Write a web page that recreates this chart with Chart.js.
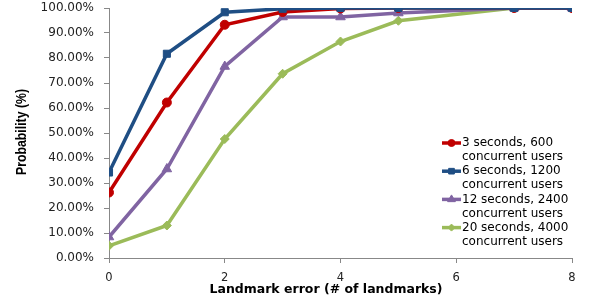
<!DOCTYPE html>
<html><head><meta charset="utf-8">
<script src="https://cdn.jsdelivr.net/npm/chart.js@4/dist/chart.umd.min.js"></script>
<style>html,body{margin:0;padding:0;background:#fff}#wrap{position:relative;width:591px;height:302px}</style>
</head><body><div id="wrap"><canvas id="c" width="591" height="302"></canvas></div>
<script>
const xValues = [0, 1, 2, 3, 4, 5, 7, 8];
const red3s   = [26.2, 62.2, 93.3, 98.4, 99.8, 100, 100, 100];
const blue6s  = [34.2, 81.7, 98.3, 99.7, 100, 100, 100, 100];
const purple12s = [8.4, 35.6, 76.6, 96.4, 96.4, 98.0, 100, 100];
const green20s  = [4.9, 13.0, 47.6, 73.7, 86.6, 94.9, 100, 100];
const seriesLabels = [["3 seconds, 600","concurrent users"],["6 seconds, 1200","concurrent users"],["12 seconds, 2400","concurrent users"],["20 seconds, 4000","concurrent users"]];
const xTitle = "Landmark error (# of landmarks)";
const yTitle = "Probability (%)";

const pts = arr => arr.map((v,i)=>({x:xValues[i], y:v}));
const styles = [
  {c:'#C00000', s:'circle', r:4.5},
  {c:'#1F4E84', s:'rect', r:5},
  {c:'#8064A2', s:'triangle', r:5.5},
  {c:'#9BBB59', s:'rectRot', r:4.5}
];
const data = [red3s, blue6s, purple12s, green20s];
const datasets = data.map((d,i)=>({
  label: seriesLabels[i].join(' '),
  data: pts(d),
  borderColor: styles[i].c,
  backgroundColor: styles[i].c,
  borderWidth: 3.5,
  pointStyle: styles[i].s,
  pointRadius: styles[i].r,
  pointBorderWidth: 1,
  tension: 0,
  order: i===1 ? 0 : 1
}));

const overlay = {
  id:'overlay',
  afterDraw(chart){
    const ctx = chart.ctx;
    ctx.save();
    ctx.fillStyle = '#000';
    ctx.font = 'bold 12.5px "DejaVu Sans"';
    ctx.textAlign = 'center'; ctx.textBaseline = 'middle';
    ctx.fillText(xTitle, 326, 290);
    ctx.translate(22, 132);
    ctx.rotate(-Math.PI/2);
    ctx.scale(0.82, 1);
    ctx.font = 'bold 15px "Liberation Sans"';
    ctx.fillText(yTitle, 0, 0);
    ctx.restore();
    ctx.save();
    ctx.font = '12px "DejaVu Sans"';
    ctx.textAlign = 'left'; ctx.textBaseline = 'middle';
    seriesLabels.forEach((lab,i)=>{
      const y = 143 + i*28.2;
      ctx.strokeStyle = styles[i].c; ctx.lineWidth = 3.5;
      ctx.beginPath(); ctx.moveTo(442, y); ctx.lineTo(461, y); ctx.stroke();
      ctx.fillStyle = styles[i].c; ctx.lineWidth = 1;
      Chart.helpers.drawPoint(ctx, {pointStyle: styles[i].s, radius: styles[i].r-1, borderWidth:1}, 451.5, y);
      ctx.fillStyle = '#000';
      ctx.fillText(lab[0], 462, y);
      ctx.fillText(lab[1], 462, y+14);
    });
    ctx.restore();
  }
};

new Chart(document.getElementById('c'), {
  type:'line',
  data:{datasets},
  options:{
    responsive:false, animation:false,
    layout:{padding:{top:8, right:19, left:0, bottom:0}},
    plugins:{legend:{display:false}, tooltip:{enabled:false}},
    scales:{
      x:{type:'linear', min:0, max:8,
        ticks:{stepSize:2, color:'#222', font:{family:'DejaVu Sans', size:11.5}, padding:8},
        grid:{display:true, drawOnChartArea:false, drawTicks:true, tickLength:5, color:'#888'},
        border:{color:'#888', width:1},
        afterFit(s){ s.height = 44; s.paddingLeft = 0; s.paddingRight = 0; }
      },
      y:{min:0, max:100,
        ticks:{stepSize:10, color:'#222', font:{family:'DejaVu Sans', size:12}, padding:10,
          callback:v=>v.toFixed(2)+'%'},
        grid:{display:true, drawOnChartArea:false, drawTicks:true, tickLength:5, color:'#888'},
        border:{color:'#888', width:1},
        afterFit(s){ s.width = 109; s.paddingTop = 0; s.paddingBottom = 0; }
      }
    }
  },
  plugins:[overlay]
});
</script></body></html>
